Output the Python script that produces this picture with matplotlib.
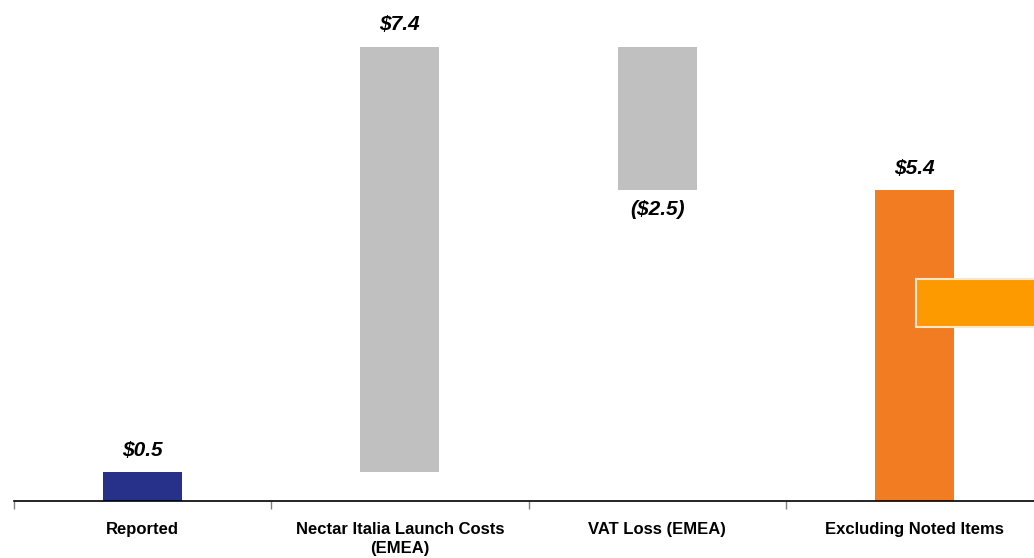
import matplotlib.pyplot as plt
from matplotlib.patches import Rectangle

plt.rcParams['font.family'] = ['Liberation Sans', 'DejaVu Sans']

# data
categories = ['Reported', 'Nectar Italia Launch Costs\n(EMEA)', 'VAT Loss (EMEA)', 'Excluding Noted Items']
changes = [0.5, 7.4, -2.5, 5.4]
labels = ['$0.5', '$7.4', '($2.5)', '$5.4']
kinds = ['total', 'step', 'step', 'total']
colors = ['#283189', '#c0c0c0', '#c0c0c0', '#f27c21']

# waterfall bottoms / heights
bottoms, heights = [], []
running = 0.0
for v, k in zip(changes, kinds):
    if k == 'total':
        bottoms.append(0.0)
        heights.append(v)
        running = v
    else:
        bottoms.append(min(running, running + v))
        heights.append(abs(v))
        running += v

fig = plt.figure(figsize=(10.34, 5.58), dpi=100)
ax = fig.add_axes([14 / 1034, 57 / 558, 1029 / 1034, 501 / 558])

x = list(range(len(categories)))
ax.bar(x, heights, bottom=bottoms, width=0.307, color=colors, zorder=2)

# value labels
for i, (b, h, v, lab) in enumerate(zip(bottoms, heights, changes, labels)):
    if v >= 0:
        ax.annotate(lab, (i, b + h), xytext=(0, 9), textcoords='offset points',
                    ha='center', va='bottom', fontsize=15, fontweight='bold', style='italic')
    else:
        ax.annotate(lab, (i, b), xytext=(0, -7), textcoords='offset points',
                    ha='center', va='top', fontsize=15, fontweight='bold', style='italic')

ax.set_xlim(-0.5, 3.5)
ax.set_ylim(0, 8.71)

for s in ['top', 'right', 'left']:
    ax.spines[s].set_visible(False)
ax.spines['bottom'].set_color('black')
ax.spines['bottom'].set_linewidth(1.2)
ax.set_yticks([])

ax.set_xticks([-0.5, 0.5, 1.5, 2.5, 3.5])
ax.set_xticklabels([])
ax.tick_params(axis='x', length=6, color='#808080', width=1)
ax.set_xticks(x, minor=True)
ax.set_xticklabels(categories, minor=True, fontsize=12, fontweight='bold', linespacing=1.35)
ax.tick_params(axis='x', which='minor', length=0, pad=15)

# decorative orange box at right edge
fig.patches.append(Rectangle((916 / 1034, (558 - 327) / 558), 130 / 1034, 48 / 558,
                             transform=fig.transFigure, facecolor='#fd9a00',
                             edgecolor='#fde6c8', linewidth=1.5, zorder=3))

fig.savefig('out.png', dpi=100)
